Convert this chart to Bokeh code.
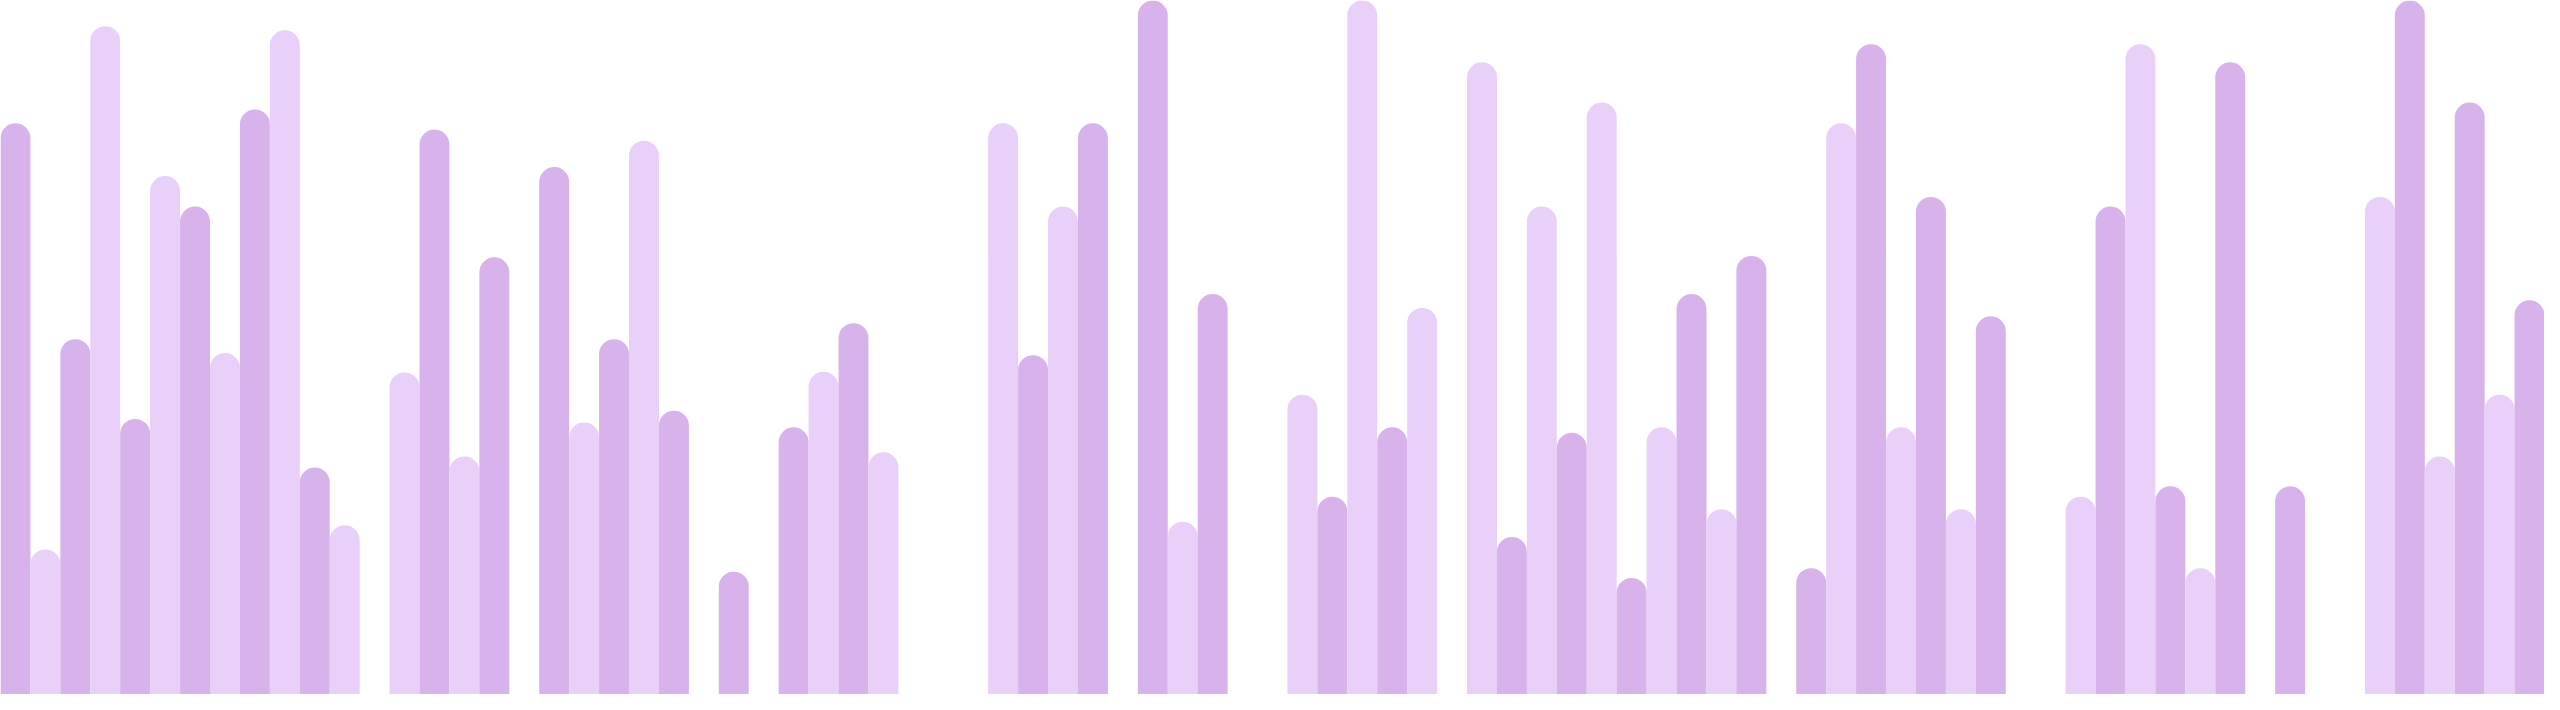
from bokeh.plotting import figure
from bokeh.models import Range1d, ColumnDataSource
from bokeh.embed import file_html
from bokeh.resources import INLINE

# Bar heights (percent of the tallest bar); 0 = empty slot
values = [
    82.3, 20.9, 51.2, 96.3, 39.7, 74.7, 70.3, 49.2, 84.3, 95.7,
    32.7, 24.4, 0.0, 46.4, 81.4, 34.3, 63.0, 0.0, 76.0, 39.2,
    51.2, 79.8, 40.9, 0.0, 17.7, 0.0, 38.5, 46.5, 53.5, 34.9,
    0.0, 0.0, 0.0, 82.3, 48.9, 70.3, 82.3, 0.0, 100.0, 24.9,
    57.7, 0.0, 0.0, 43.2, 28.5, 100.0, 38.5, 55.7, 0.0, 91.1,
    22.7, 70.3, 37.7, 85.3, 16.8, 38.5, 57.7, 26.7, 63.2, 0.0,
    18.2, 82.3, 93.7, 38.5, 71.7, 26.7, 54.5, 0.0, 0.0, 28.5,
    70.3, 93.7, 30.0, 18.2, 91.1, 0.0, 30.0, 0.0, 0.0, 71.7,
    100.0, 34.3, 85.3, 43.2, 56.8,
]
palette = ["#d7b2eb", "#e8d0f8"]  # even slots darker, odd slots lighter

xs = [i for i, v in enumerate(values) if v > 0]
tops = [v for v in values if v > 0]
cols = [palette[i % 2] for i in xs]
src = ColumnDataSource(dict(x=xs, top=tops, color=cols))

W, H = 2544, 694
p = figure(width=W, height=H, output_backend="svg", toolbar_location=None,
           x_range=Range1d(-0.5, len(values) - 0.5), y_range=Range1d(0, 100),
           min_border=0)
p.axis.visible = False
p.grid.visible = False
p.outline_line_color = None
p.background_fill_color = "white"
p.border_fill_color = "white"

p.vbar(x="x", top="top", bottom=0, width=1, fill_color="color", line_color=None,
       border_radius=(15, 15, 0, 0), source=src)

open("out.html", "w").write(file_html(p, INLINE))
